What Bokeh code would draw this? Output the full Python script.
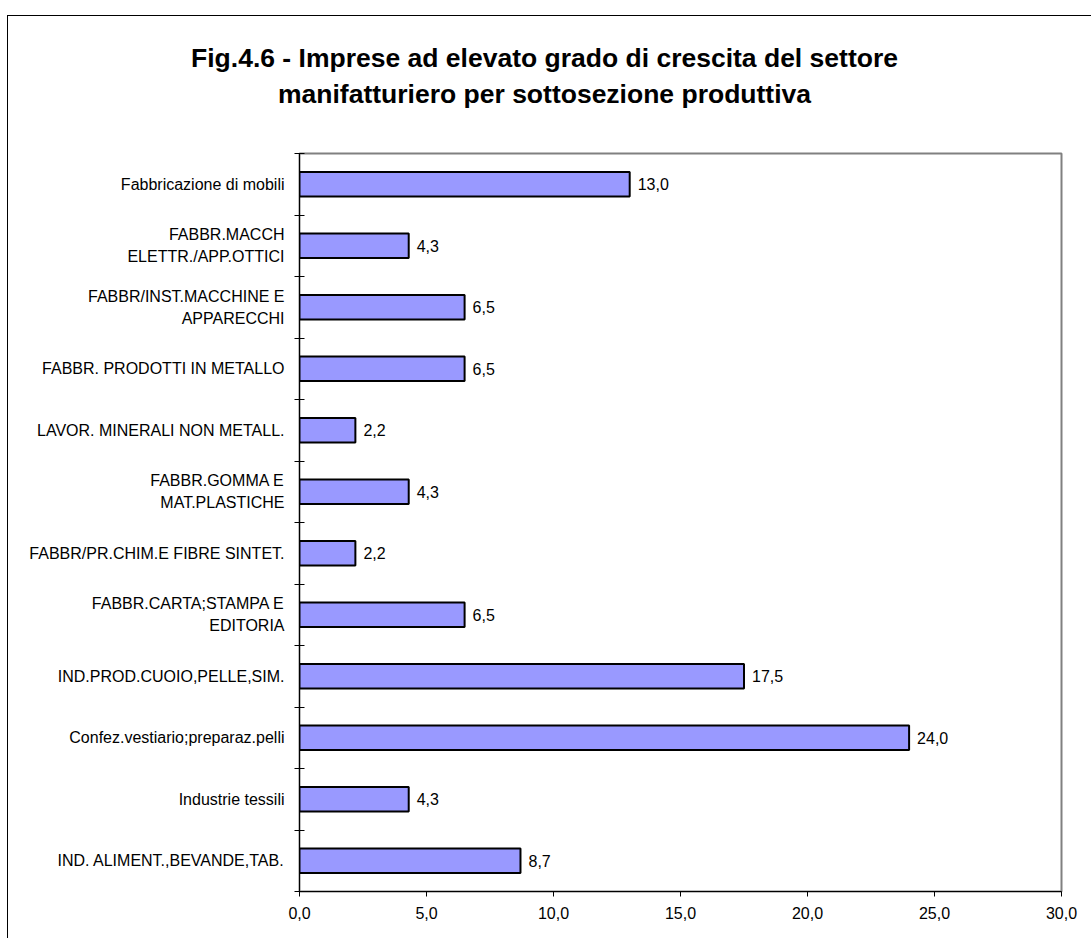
from bokeh.plotting import figure
from bokeh.models import Range1d, FixedTicker, Label, ColumnDataSource
from bokeh.core.properties import value
from bokeh.embed import file_html
from bokeh.resources import INLINE

# ---- data (bottom to top) ----
categories = [
    "IND. ALIMENT.,BEVANDE,TAB.",
    "Industrie tessili",
    "Confez.vestiario;preparaz.pelli",
    "IND.PROD.CUOIO,PELLE,SIM.",
    "FABBR.CARTA;STAMPA E\nEDITORIA",
    "FABBR/PR.CHIM.E FIBRE SINTET.",
    "FABBR.GOMMA E\nMAT.PLASTICHE",
    "LAVOR. MINERALI NON METALL.",
    "FABBR. PRODOTTI IN METALLO",
    "FABBR/INST.MACCHINE E\nAPPARECCHI",
    "FABBR.MACCH\nELETTR./APP.OTTICI",
    "Fabbricazione di mobili",
]
values = [8.7, 4.3, 24.0, 17.5, 6.5, 2.2, 4.3, 2.2, 6.5, 6.5, 4.3, 13.0]
x_ticks = [0, 5, 10, 15, 20, 25, 30]
x_tick_labels = ["0,0", "5,0", "10,0", "15,0", "20,0", "25,0", "30,0"]
title_lines = [
    "Fig.4.6 - Imprese ad elevato grado di crescita del settore",
    "manifatturiero per sottosezione produttiva",
]

FONT = "Liberation Sans"

n = len(categories)
centers = [i + 0.5 for i in range(n)]
value_labels = [f"{v:.1f}".replace(".", ",") for v in values]

src = ColumnDataSource(dict(y=centers, v=values, lab=value_labels))

p = figure(
    width=1084, height=923,
    x_range=Range1d(0, 30), y_range=Range1d(0, n),
    output_backend="svg", toolbar_location=None,
    min_border_left=291, min_border_right=31,
    min_border_top=137, min_border_bottom=48,
    margin=(15, 0, 0, 7),
    styles={"border-left": "1px solid black", "border-top": "1px solid black"},
)
p.background_fill_color = "white"
p.border_fill_color = "white"
p.xgrid.visible = False
p.ygrid.visible = False
p.outline_line_color = "#808080"
p.outline_line_width = 2

p.hbar(y="y", left=0, right="v", height=0.4, source=src,
       fill_color="#9999FF", line_color="black", line_width=2)

p.text(x="v", y="y", text="lab", source=src, x_offset=8,
       text_baseline="middle", text_align="left",
       text_font=value(FONT), text_font_size="16px", text_color="black")

# x axis
xa = p.xaxis[0]
xa.ticker = FixedTicker(ticks=x_ticks)
xa.major_label_overrides = {t: l for t, l in zip(x_ticks, x_tick_labels)}
xa.major_tick_in = 0
xa.major_tick_out = 5
xa.minor_tick_line_color = None
xa.axis_line_color = "black"
xa.major_tick_line_color = "black"
xa.major_label_text_font = FONT
xa.major_label_text_font_size = "16px"
xa.major_label_text_color = "black"
xa.major_label_standoff = 10

# y axis
ya = p.yaxis[0]
ya.ticker = FixedTicker(ticks=centers, minor_ticks=list(range(n + 1)))
ya.major_label_overrides = {c: cat for c, cat in zip(centers, categories)}
ya.major_tick_in = 0
ya.major_tick_out = 0
ya.major_tick_line_color = None
ya.minor_tick_in = 5
ya.minor_tick_out = 5
ya.minor_tick_line_color = "black"
ya.axis_line_color = "black"
ya.major_label_text_font = FONT
ya.major_label_text_font_size = "16px"
ya.major_label_text_color = "black"
ya.major_label_text_line_height = 1.28
ya.major_label_standoff = 10

# title: labels placed in the "above" side panel (not clipped to the frame)
title_y = [96, 30]
for line, ty in zip(title_lines, title_y):
    p.add_layout(Label(
        x=245, y=ty, x_units="screen", y_units="screen",
        text=line, text_align="center", text_baseline="alphabetic",
        text_font=FONT, text_font_style="bold", text_font_size="26.5px",
        text_color="black",
    ), "above")

open("out.html", "w").write(file_html(p, INLINE))
